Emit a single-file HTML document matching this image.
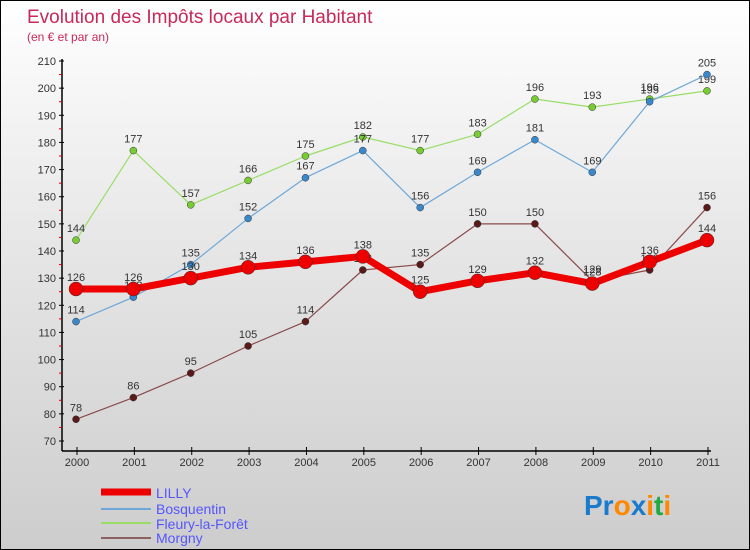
<!DOCTYPE html>
<html><head><meta charset="utf-8"><style>
body{margin:0}
#c{width:750px;height:550px;position:relative;box-sizing:border-box;border:1px solid #000;background:linear-gradient(#fff,#e6e6e6 45%,#cdcdcd);font-family:"Liberation Sans",sans-serif;overflow:hidden}
</style></head><body>
<div id="c">
<svg id="s" width="750" height="550" style="position:absolute;left:0;top:0">
<text x="26" y="22" font-size="19" fill="#c8285a">Evolution des Impôts locaux par Habitant</text>
<text x="26" y="40" font-size="12" fill="#c8285a">(en € et par an)</text>
</svg>
</div>
<script>
const years=["2000","2001","2002","2003","2004","2005","2006","2007","2008","2009","2010","2011"];
const yTicks=[70,80,90,100,110,120,130,140,150,160,170,180,190,200,210];
const lilly=[126,126,130,134,136,138,125,129,132,128,136,144];
const bosquentin=[114,123,135,152,167,177,156,169,181,169,195,205];
const fleury=[144,177,157,166,175,182,177,183,196,193,196,199];
const morgny=[78,86,95,105,114,133,135,150,150,129,133,156];
const s=document.getElementById('s'),NS="http://www.w3.org/2000/svg";
const X=i=>75+i*(706-75)/11, Y=v=>440-(v-70)*(440-60)/140;
function el(t,a,p){const e=document.createElementNS(NS,t);for(const k in a)e.setAttribute(k,a[k]);(p||s).appendChild(e);return e;}
let ax=el('line',{x1:61,y1:58,x2:61,y2:450,stroke:'#000','stroke-width':1.5});


let bx=el('line',{x1:61,y1:450,x2:710,y2:450,stroke:'#000','stroke-width':1.5});


yTicks.forEach(v=>{el('line',{x1:58,y1:Y(v),x2:63,y2:Y(v),stroke:'#000'});
 if(v<210)el('line',{x1:58,y1:Y(v+5),x2:61,y2:Y(v+5),stroke:'#d00'});
 const t=el('text',{x:55,y:Y(v)+4,'font-size':11,fill:'#333','text-anchor':'end'});t.textContent=v;
 
 });
years.forEach((y,i)=>{el('line',{x1:X(i)+1,y1:446,x2:X(i)+1,y2:454,stroke:'#000'});
 const t=el('text',{x:X(i)+1,y:465,'font-size':11,fill:'#333','text-anchor':'middle'});t.textContent=y;
 
 });
function series(d,col,dot,w,r,name){
 const g=el('g',{});
 
 
 el('polyline',{points:d.map((v,i)=>X(i)+','+Y(v)).join(' '),fill:'none',stroke:col,'stroke-width':w,'stroke-linejoin':'round'},g);
 d.forEach((v,i)=>{const c=el('circle',{cx:X(i),cy:Y(v),r:r,fill:dot,stroke:'#333','stroke-width':0.5},g);
  
  
  const t=el('text',{x:X(i),y:Y(v)-8,'font-size':11,fill:'#333','text-anchor':'middle'},g);t.textContent=v;
  
  });
}
series(fleury,'#99dd66','#77cc33',1.2,3.5,'fleury');
series(bosquentin,'#6fa8d8','#3a88cc',1.2,3.5,'bosquentin');
series(morgny,'#8a4a4a','#5a1a1a',1.2,3.5,'morgny');
series(lilly,'#ee0000','#ee0000',7,7,'lilly');
const leg=[['LILLY','#ee0000',7],['Bosquentin','#6fa8d8',2],['Fleury-la-Forêt','#99dd66',2],['Morgny','#8a6060',2]];
leg.forEach((l,i)=>{
 el('line',{x1:100,y1:[491,508,522,537][i],x2:150,y2:[491,508,522,537][i],stroke:l[1],'stroke-width':l[2]});
 const t=el('text',{x:155,y:[497,513,528,542][i],'font-size':14,fill:'#5555ff'});t.textContent=l[0];
 
 });
const p=el('text',{x:583,y:514,'font-size':28,'font-weight':'bold'});


[['Pr','#1a7acc'],['o','#ff8800'],['x','#1a7acc'],['i','#ff8800'],['t','#22aa44'],['i','#ff8800']].forEach(a=>{const t=el('tspan',{fill:a[1]},p);t.textContent=a[0];});
</script>
</body></html>
